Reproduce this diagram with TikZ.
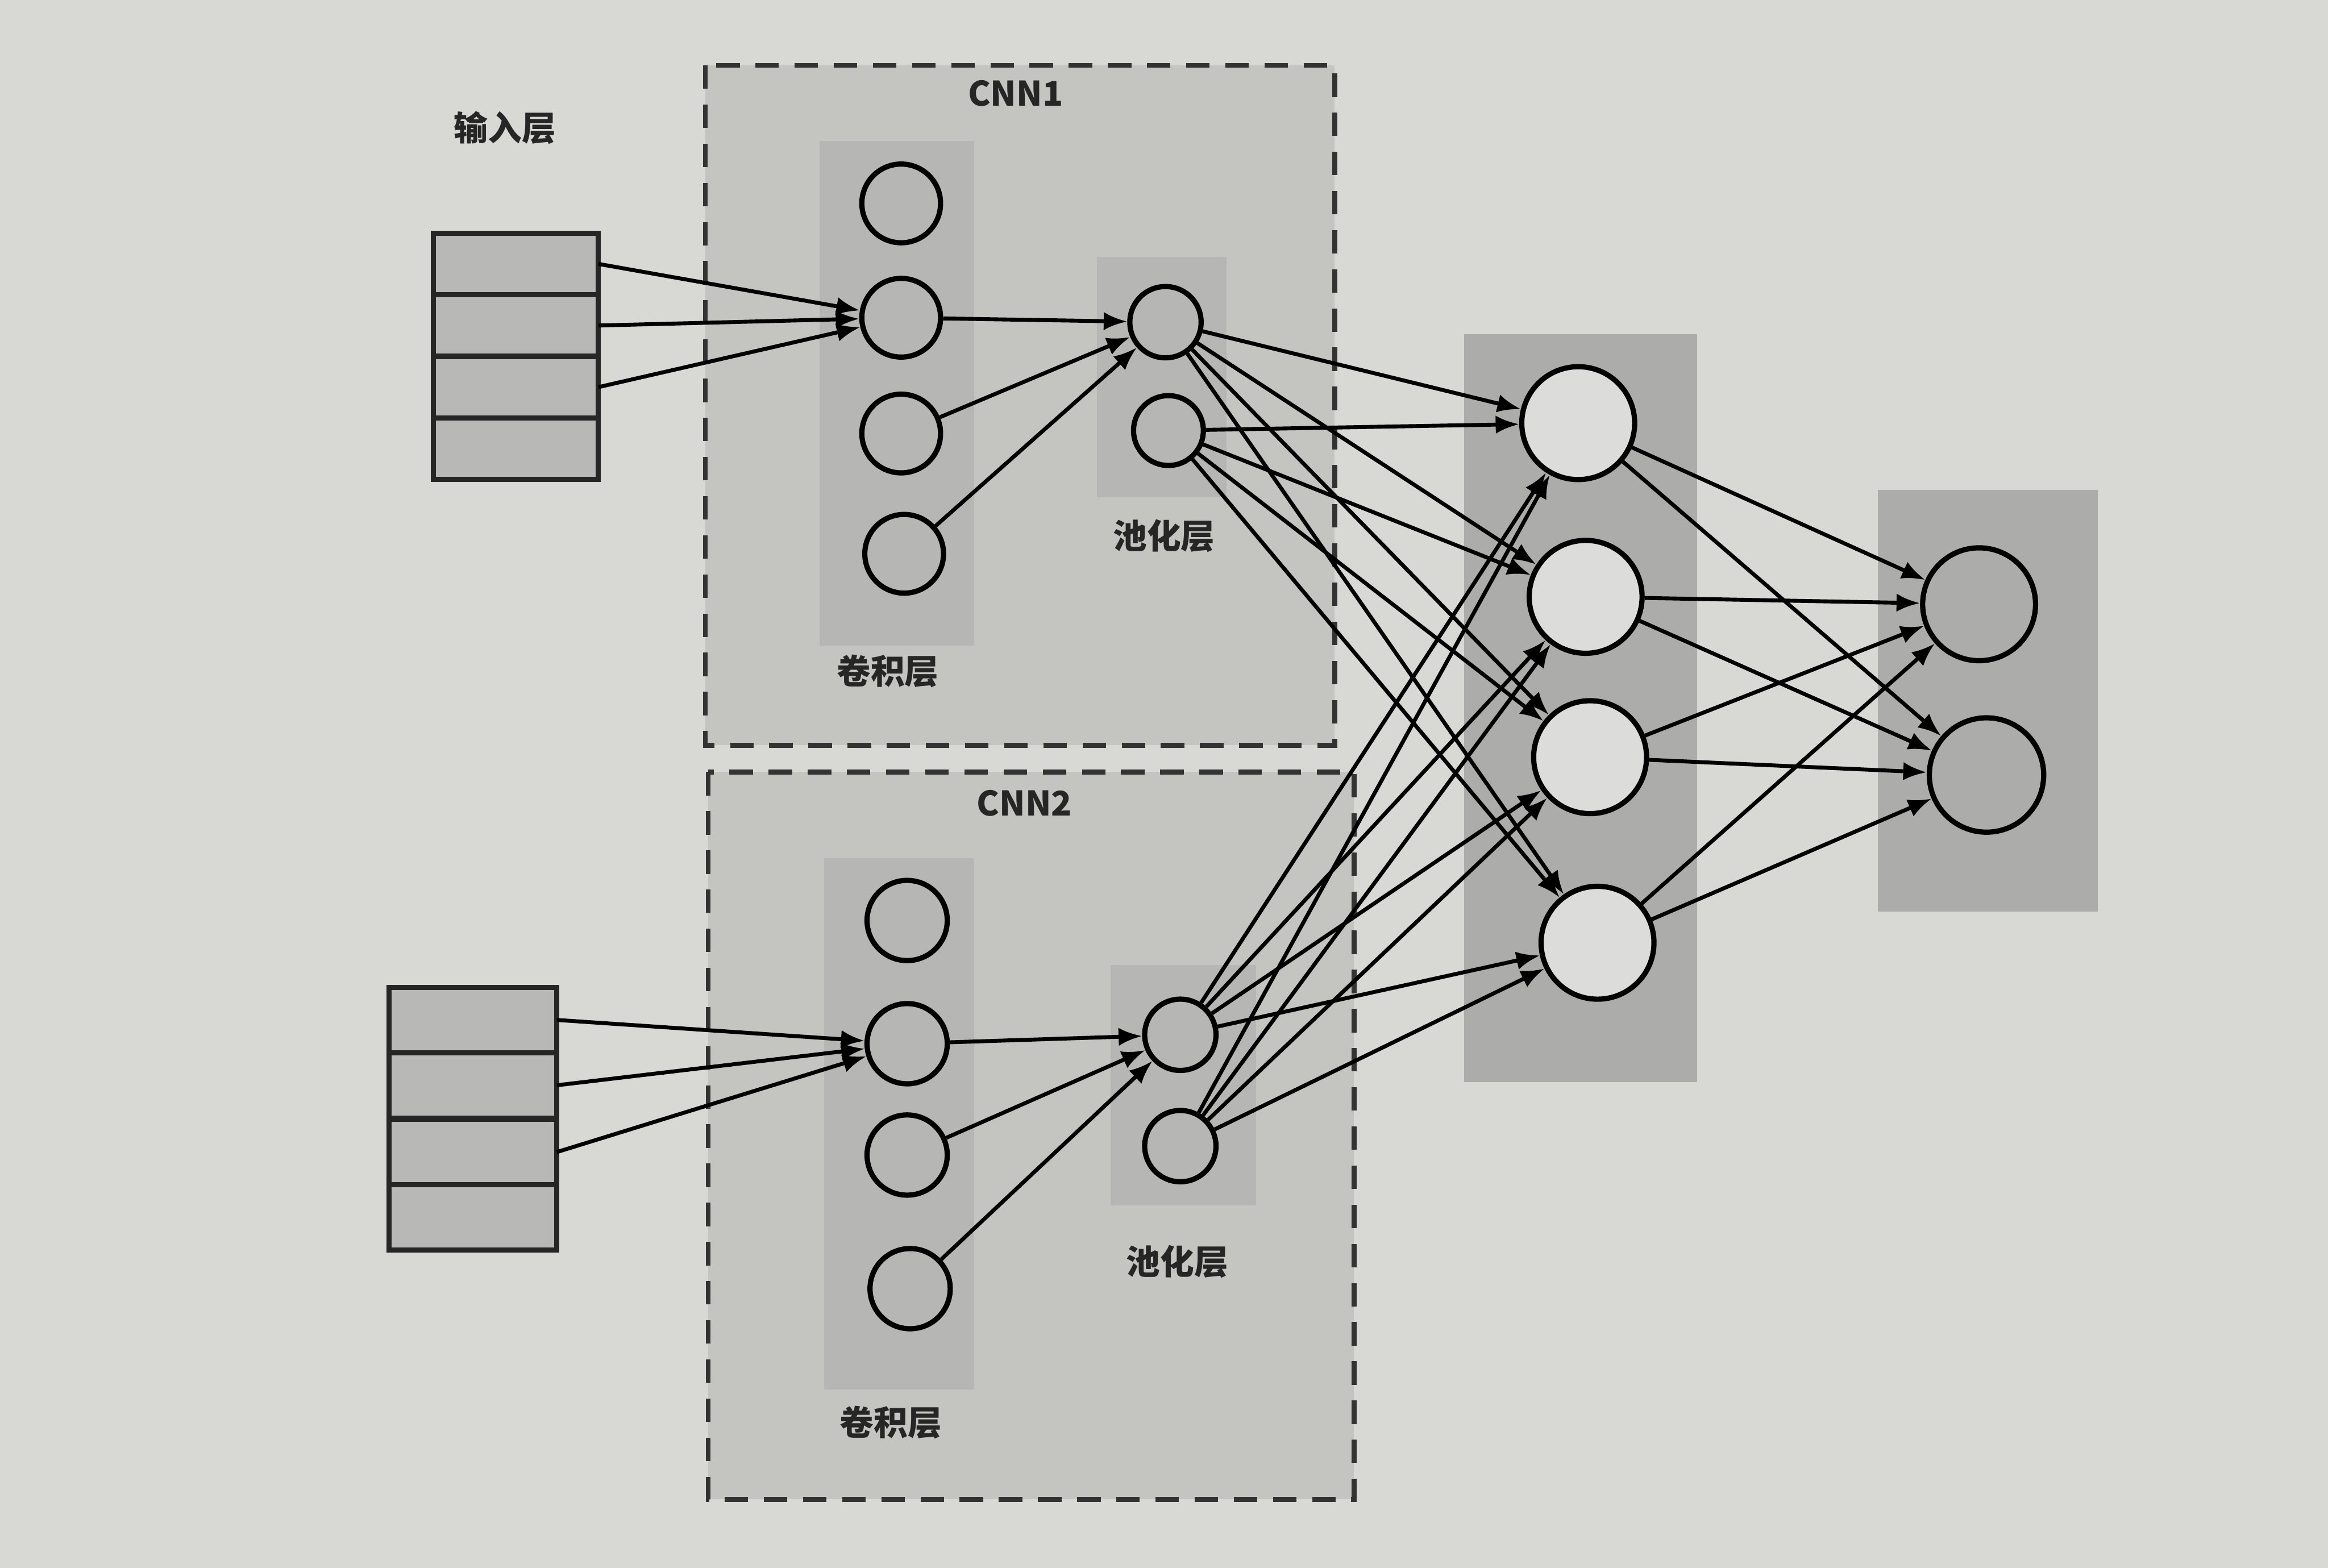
\documentclass[tikz,border=0pt]{standalone}
\usepackage{fontspec}
\newfontfamily\cjk{Noto Sans CJK SC}
\usetikzlibrary{arrows.meta}
\definecolor{paper}{RGB}{216,216,213}
\definecolor{boxgray}{RGB}{196,196,193}
\definecolor{stripgray}{RGB}{172,172,170}
\definecolor{cnnstrip}{RGB}{182,182,180}
\definecolor{cellgray}{RGB}{184,184,182}
\definecolor{nodelight}{RGB}{220,220,218}
\tikzset{
  neuron/.style={circle,draw=black,line width=1pt,inner sep=0pt},
  cell/.style={rectangle,draw=black!85,line width=1pt,fill=cellgray,
    minimum width=1.11cm,inner sep=0pt,outer sep=0pt},
  cnnbox/.style={draw=black!80,line width=0.9pt,dash pattern=on 4.5pt off 3pt,fill=boxgray},
  strip/.style={fill=stripgray},
  link/.style={-{Latex[length=4.5pt,width=3.5pt]},line width=0.75pt},
  lbl/.style={font=\cjk\bfseries\fontsize{6.5}{7}\selectfont,text=black!85}
}

\begin{document}
\begin{tikzpicture}[x=0.01cm,y=-0.01cm]
    \fill[paper] (0,0) rectangle (1568,1056);
    \useasboundingbox (0,0) rectangle (1568,1056);
    % the two CNN boxes
    \draw[cnnbox] (475,44) rectangle (899,502);
    \draw[cnnbox] (477,520) rectangle (912,1010);
    % layer strips
    \fill[cnnstrip] (552,95) rectangle (656,435);
    \fill[cnnstrip] (739,173) rectangle (826,335);
    \fill[cnnstrip] (555,578) rectangle (656,936);
    \fill[cnnstrip] (748,650) rectangle (846,812);
    \fill[strip] (986,225) rectangle (1143,729);
    \fill[strip] (1265,330) rectangle (1413,614);
    % input layers
    \foreach \r/\y in {1/177.75,2/219.25,3/260.75,4/302.25}
      \node[cell,minimum height=0.415cm] (a\r) at (347.5,\y) {};
    \foreach \r/\y in {1/687,2/731,3/776,4/820}
      \node[cell,minimum height=0.44cm,minimum width=1.13cm] (b\r) at (318.5,\y) {};
    % convolution and pooling neurons
    \foreach \i/\x/\y in {1/607/137,2/607/214,3/607/292,4/609/373}
      \node[neuron,minimum size=0.53cm] (c1\i) at (\x,\y) {};
    \foreach \i/\x/\y in {1/611/620,2/611/703,3/611/778,4/613/868}
      \node[neuron,minimum size=0.54cm] (c2\i) at (\x,\y) {};
    \node[neuron,minimum size=0.48cm] (p11) at (785,217) {};
    \node[neuron,minimum size=0.47cm] (p12) at (787,290) {};
    \node[neuron,minimum size=0.48cm] (p21) at (795,697) {};
    \node[neuron,minimum size=0.48cm] (p22) at (795,772) {};
    % fully connected part
    \foreach \i/\x/\y in {1/1063/285,2/1068/402,3/1071/510,4/1076/635}
      \node[neuron,fill=nodelight,minimum size=0.76cm] (h\i) at (\x,\y) {};
    \node[neuron,minimum size=0.76cm] (o1) at (1333,407) {};
    \node[neuron,minimum size=0.77cm] (o2) at (1338,522) {};
    % labels
    \node[lbl] (inlabel) at (340,86) {输入层};
    \node[lbl] (cnnone) at (684,63) {CNN1};
    \node[lbl] (poolone) at (784,361) {池化层};
    \node[lbl] (convone) at (598,452) {卷积层};
    \node[lbl] (cnntwo) at (690,541) {CNN2};
    \node[lbl] (pooltwo) at (793,850) {池化层};
    \node[lbl] (convtwo) at (600,958) {卷积层};
    % connections
    \foreach \r in {1,2,3} {
      \draw[link] (a\r.east) -- (c12);
      \draw[link] (b\r.east) -- (c22);
    }
    \foreach \i in {2,3,4} {
      \draw[link] (c1\i) -- (p11);
      \draw[link] (c2\i) -- (p21);
    }
    \foreach \p in {p11,p12,p21,p22}
      \foreach \h in {1,...,4}
        \draw[link] (\p) -- (h\h);
    \foreach \h in {1,...,4}
      \foreach \o in {1,2}
        \draw[link] (h\h) -- (o\o);
\end{tikzpicture}
\end{document}
